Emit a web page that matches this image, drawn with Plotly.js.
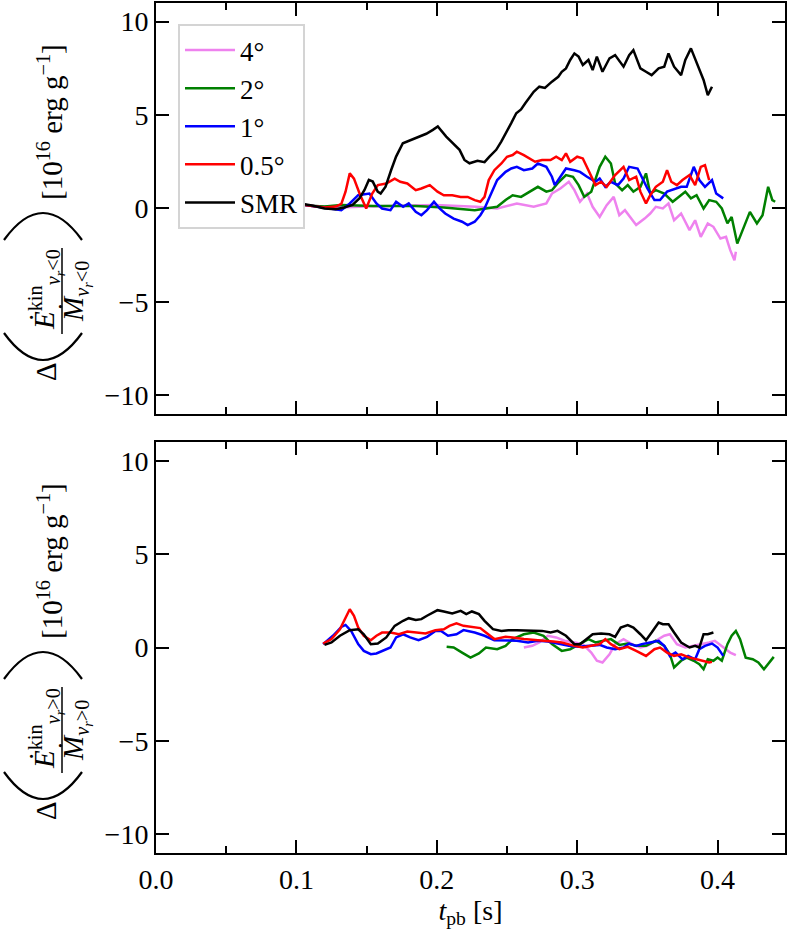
<!DOCTYPE html>
<html>
<head>
<meta charset="utf-8">
<script src="https://cdn.plot.ly/plotly-3.0.1.min.js"></script>
<style>
  body { margin: 0; }
  #chart text { font-family: 'Liberation Serif', serif !important; }
</style>
</head>
<body>
<div id="chart"></div>
<script>
// legend labels and colours
var names = ['4°', '2°', '1°', '0.5°', 'SMR'];
var colors = ['violet', 'green', 'blue', 'red', 'black'];

// ---- top panel: v_r < 0 ----
var t4Neg = [0.100,0.105,0.110,0.120,0.130,0.150,0.170,0.199,0.228,0.243,0.257,0.269,0.278,0.282,0.288,0.294,0.298,0.302,0.307,0.311,0.316,0.321,0.326,0.330,0.334,0.339,0.342,0.348,0.352,0.356,0.361,0.365,0.369,0.374,0.380,0.384,0.388,0.393,0.397,0.402,0.406,0.409,0.412,0.413];
var v4Neg = [0.05,0.2,0.15,0.1,0.05,0.1,0.12,0.18,0.09,0.0,0.27,0.09,0.27,0.8,1.07,1.43,0.98,0.36,0.8,0.09,-0.45,0.18,0.62,-0.36,-0.09,-0.63,-0.89,-0.54,-0.27,0.09,0.0,0.27,-0.63,-0.27,-1.16,-0.63,-1.52,-0.8,-0.98,-1.61,-1.52,-2.23,-2.77,-2.32];

var t2Neg = [0.100,0.105,0.110,0.120,0.132,0.155,0.185,0.205,0.227,0.234,0.243,0.249,0.254,0.260,0.268,0.272,0.278,0.282,0.286,0.292,0.297,0.301,0.305,0.310,0.316,0.320,0.324,0.327,0.332,0.336,0.340,0.345,0.349,0.352,0.356,0.362,0.368,0.372,0.377,0.381,0.385,0.390,0.394,0.399,0.403,0.407,0.410,0.414,0.419,0.423,0.428,0.432,0.436,0.439,0.441];
var v2Neg = [0.05,0.2,0.15,0.1,0.18,0.13,0.13,0.05,-0.09,0.0,0.09,0.45,0.71,0.62,0.98,1.16,0.9,0.98,1.34,1.79,1.7,1.25,0.62,0.9,2.23,2.77,2.41,1.34,0.98,1.25,0.9,1.16,1.88,0.8,0.98,0.8,0.36,0.62,0.9,0.54,0.71,0.0,0.45,0.36,0.0,-0.8,-0.45,-1.88,-0.89,-0.18,-0.8,-0.36,1.16,0.45,0.36];

var t1Neg = [0.100,0.105,0.110,0.120,0.126,0.132,0.138,0.144,0.152,0.157,0.161,0.167,0.171,0.176,0.180,0.185,0.189,0.193,0.198,0.202,0.206,0.212,0.218,0.222,0.227,0.231,0.234,0.238,0.243,0.249,0.253,0.257,0.262,0.268,0.272,0.278,0.282,0.284,0.288,0.292,0.298,0.302,0.307,0.313,0.316,0.320,0.324,0.329,0.333,0.337,0.343,0.348,0.350,0.355,0.359,0.364,0.370,0.374,0.378,0.383,0.387,0.391,0.396,0.399,0.404];
var v1Neg = [0.05,0.2,0.15,0.05,-0.04,-0.09,0.27,0.71,0.8,0.27,0.0,-0.09,0.36,0.09,0.27,-0.18,-0.36,-0.09,0.36,0.0,-0.27,-0.54,-0.71,-0.89,-0.71,-0.36,0.0,0.71,1.52,1.96,2.14,2.23,2.05,2.14,2.41,2.23,1.7,1.25,1.7,2.14,2.05,1.96,1.7,1.43,1.6,1.16,1.43,1.25,1.6,2.23,2.14,1.43,1.07,0.45,0.45,0.9,1.07,1.16,1.16,2.23,1.52,1.16,1.52,0.8,0.54];

var t05Neg = [0.100,0.105,0.110,0.120,0.128,0.132,0.135,0.138,0.141,0.145,0.1497,0.154,0.158,0.164,0.170,0.174,0.179,0.185,0.189,0.195,0.2005,0.205,0.211,0.217,0.222,0.227,0.231,0.234,0.237,0.241,0.246,0.250,0.254,0.257,0.262,0.266,0.270,0.275,0.281,0.285,0.289,0.292,0.295,0.300,0.304,0.308,0.313,0.317,0.321,0.327,0.333,0.337,0.342,0.345,0.349,0.352,0.356,0.361,0.364,0.367,0.371,0.375,0.380,0.384,0.388,0.391,0.394];
var v05Neg = [0.05,0.2,0.15,0.05,0.1,0.25,0.9,1.88,1.6,0.8,0.0,0.8,1.25,1.34,1.6,1.43,1.34,0.98,1.07,1.25,0.9,0.71,0.71,0.62,0.62,0.45,0.36,0.62,1.52,2.05,2.41,2.77,2.86,3.04,2.86,2.68,2.5,2.59,2.59,2.77,2.59,2.95,2.5,2.77,2.68,2.05,1.25,1.43,1.16,1.79,2.23,1.52,1.7,0.9,0.27,0.71,1.16,1.43,2.05,1.43,1.25,1.52,1.79,1.25,2.23,2.32,1.52];

var tSmrNeg = [0.0998,0.106,0.112,0.120,0.128,0.134,0.140,0.145,0.1485,0.1516,0.1544,0.1579,0.160,0.1635,0.1675,0.171,0.1758,0.1817,0.1889,0.1925,0.1972,0.2007,0.2067,0.2115,0.2162,0.2197,0.2233,0.229,0.234,0.2375,0.2423,0.2459,0.2494,0.253,0.2566,0.26,0.263,0.269,0.273,0.277,0.282,0.2865,0.289,0.292,0.295,0.298,0.301,0.304,0.308,0.311,0.314,0.318,0.323,0.327,0.333,0.337,0.340,0.345,0.349,0.353,0.358,0.362,0.365,0.369,0.374,0.377,0.381,0.384,0.387,0.390,0.393,0.396];
var vSmrNeg = [0.1,0.23,0.15,0.0,-0.04,0.05,0.19,0.55,0.99,1.53,1.44,0.9,0.8,1.17,2.06,2.78,3.49,3.67,3.85,4.0,4.21,4.39,3.85,3.49,3.14,2.6,2.42,2.55,2.48,2.78,3.14,3.58,4.03,4.57,5.1,5.3,5.63,6.25,6.52,6.45,6.79,7.05,7.32,7.5,7.95,8.3,8.13,7.68,7.95,7.41,8.13,7.32,8.04,8.21,7.59,8.21,8.48,7.5,7.32,7.14,7.5,7.59,8.3,7.59,7.14,7.95,8.57,8.04,7.41,6.88,6.07,6.52];

// ---- bottom panel: v_r > 0 ----
var t4Pos = [0.262,0.268,0.273,0.279,0.285,0.291,0.298,0.304,0.310,0.314,0.318,0.323,0.327,0.333,0.339,0.345,0.350,0.356,0.362,0.366,0.371,0.377,0.383,0.388,0.394,0.398,0.403,0.409,0.413];
var v4Pos = [0.0,0.09,0.27,0.63,0.54,0.36,0.27,0.18,-0.27,-0.71,-0.8,-0.36,0.18,0.45,0.18,0.0,0.09,0.36,0.63,0.71,0.18,0.0,0.09,0.18,0.27,0.36,0.09,-0.27,-0.41];

var t2Pos = [0.207,0.212,0.218,0.224,0.230,0.235,0.243,0.249,0.254,0.262,0.269,0.276,0.282,0.289,0.295,0.302,0.308,0.313,0.318,0.324,0.330,0.336,0.342,0.349,0.356,0.362,0.366,0.369,0.374,0.378,0.383,0.387,0.390,0.393,0.397,0.400,0.403,0.407,0.410,0.413,0.416,0.420,0.425,0.429,0.433,0.436,0.440];
var v2Pos = [0.04,0.0,-0.27,-0.54,-0.32,0.0,-0.09,0.09,0.45,0.71,0.8,0.63,0.18,-0.18,-0.09,0.18,0.45,0.27,0.36,0.45,0.14,0.21,0.09,0.09,0.36,0.09,-0.36,-1.07,-0.71,-0.54,-0.71,-0.89,-1.16,-0.63,-0.71,-0.54,-0.71,0.18,0.63,0.89,0.45,-0.54,-0.63,-0.8,-1.16,-0.89,-0.5];

var t1Pos = [0.119,0.126,0.132,0.135,0.139,0.144,0.148,0.153,0.157,0.161,0.167,0.171,0.176,0.181,0.187,0.193,0.199,0.203,0.208,0.214,0.219,0.227,0.234,0.241,0.249,0.257,0.265,0.272,0.279,0.286,0.294,0.301,0.308,0.316,0.321,0.327,0.333,0.337,0.342,0.346,0.352,0.358,0.362,0.366,0.370,0.375,0.379,0.384,0.387,0.391,0.396,0.400,0.404];
var v1Pos = [0.18,0.63,1.1,1.21,0.89,0.18,-0.18,-0.36,-0.32,-0.18,0.0,0.54,0.71,0.54,0.39,0.57,0.89,0.89,0.63,0.71,0.93,0.8,0.63,0.39,0.39,0.36,0.27,0.36,0.32,0.21,0.09,0.04,0.09,0.14,0.0,-0.09,0.0,0.21,0.09,0.18,0.27,0.36,0.09,-0.45,-0.27,-0.63,-0.45,-0.63,-0.09,0.09,0.21,0.0,-0.45];

var t05Pos = [0.119,0.125,0.131,0.135,0.138,0.141,0.144,0.148,0.153,0.157,0.161,0.167,0.173,0.179,0.186,0.192,0.199,0.205,0.209,0.214,0.219,0.225,0.231,0.235,0.241,0.249,0.254,0.262,0.269,0.276,0.283,0.289,0.298,0.304,0.310,0.316,0.320,0.324,0.330,0.336,0.342,0.349,0.355,0.359,0.364,0.369,0.374,0.380,0.385,0.390,0.394,0.396];
var v05Pos = [0.21,0.45,0.98,1.61,2.05,1.7,1.07,0.63,0.39,0.63,0.8,0.8,0.71,0.86,0.8,0.75,0.93,0.98,1.16,1.29,1.16,1.1,1.04,0.8,0.45,0.57,0.54,0.45,0.39,0.36,0.32,0.27,0.09,0.0,0.09,0.18,0.45,0.18,-0.09,0.04,-0.18,-0.45,-0.09,0.0,-0.27,-0.45,-0.36,-0.54,-0.63,-0.71,-0.8,-0.77];

var tSmrPos = [0.120,0.125,0.131,0.138,0.144,0.148,0.153,0.158,0.164,0.170,0.176,0.180,0.185,0.189,0.193,0.198,0.2005,0.205,0.211,0.217,0.221,0.225,0.230,0.234,0.240,0.246,0.251,0.257,0.263,0.269,0.275,0.281,0.286,0.292,0.298,0.302,0.307,0.311,0.317,0.323,0.327,0.331,0.336,0.340,0.345,0.349,0.353,0.358,0.361,0.365,0.369,0.374,0.380,0.384,0.387,0.390,0.393,0.397];
var vSmrPos = [0.14,0.27,0.63,0.93,0.98,0.71,0.18,0.21,0.54,1.16,1.43,1.57,1.48,1.52,1.7,1.88,2.0,1.93,1.82,1.96,1.79,1.93,1.79,1.43,0.98,0.89,0.93,0.93,0.93,0.89,0.89,0.8,0.89,0.63,0.18,0.18,0.45,0.71,0.75,0.71,0.57,1.07,1.2,1.07,0.71,0.39,0.8,1.34,1.25,1.25,0.8,0.27,0.0,0.09,0.0,0.71,0.71,0.8];

var topT = [t4Neg, t2Neg, t1Neg, t05Neg, tSmrNeg];
var topV = [v4Neg, v2Neg, v1Neg, v05Neg, vSmrNeg];
var botT = [t4Pos, t2Pos, t1Pos, t05Pos, tSmrPos];
var botV = [v4Pos, v2Pos, v1Pos, v05Pos, vSmrPos];

var serif = 'Liberation Serif';

var data = [];
for (var i = 0; i < names.length; i++) {
    data.push({
        x: topT[i], y: topV[i], xaxis: 'x', yaxis: 'y',
        type: 'scatter', mode: 'lines', name: names[i],
        line: {color: colors[i], width: 2.5}
    });
}
for (var i = 0; i < names.length; i++) {
    data.push({
        x: botT[i], y: botV[i], xaxis: 'x2', yaxis: 'y2',
        type: 'scatter', mode: 'lines', name: names[i], showlegend: false,
        line: {color: colors[i], width: 2.5}
    });
}

// pixel -> paper helpers for the stacked y titles
var L = 156, W = 629, B = 853, H = 850;
function px(x) { return (x - L) / W; }
function py(y) { return (B - y) / H; }

function xAxis(showLabels, anchor) {
    return {
        anchor: anchor, range: [0, 0.448], tick0: 0, dtick: 0.1,
        ticks: 'inside', ticklen: 13, tickwidth: 1.5, tickcolor: 'black',
        minor: {dtick: 0.05, ticks: 'inside', ticklen: 7, tickwidth: 1.5, tickcolor: 'black'},
        showline: true, linewidth: 2, linecolor: 'black', mirror: 'ticks',
        showgrid: false, zeroline: false,
        showticklabels: showLabels, tickformat: '.1f',
        tickfont: {family: serif, size: 28, color: 'black'}
    };
}
function yAxis(domain, anchor) {
    return {
        domain: domain, anchor: anchor, range: [-11, 11], tickvals: [-10, -5, 0, 5, 10],
        ticks: 'inside', ticklen: 13, tickwidth: 1.5, tickcolor: 'black',
        showline: true, linewidth: 2, linecolor: 'black', mirror: 'ticks',
        showgrid: false, zeroline: false, ticksuffix: ' ',
        tickfont: {family: serif, size: 28, color: 'black'}
    };
}

var xTop = xAxis(false, 'y');
var xBot = xAxis(true, 'y2');
xBot.title = {text: '<i>t</i><sub>pb</sub> [s]', font: {family: serif, size: 28, color: 'black'}, standoff: 6};

var annotations = [];
var shapes = [];
function note(x, y, text) {
    annotations.push({xref: 'paper', yref: 'paper', x: px(x), y: py(y),
        xanchor: 'center', yanchor: 'middle', text: text, showarrow: false,
        textangle: -90, font: {family: serif, size: 29, color: 'black'}});
}
function yTitle(off, sign) {
    var sub = '<i>v</i><sub><i>r</i></sub>' + sign + '0';
    note(46, 372 + off, 'Δ');
    note(46, 290 + off, '<i>Ė</i><sup>kin</sup><sub>' + sub + '</sub>');
    note(76, 292 + off, '<i>Ṁ</i><sub>' + sub + '</sub>');
    note(50, 122 + off, '[10<sup>16</sup> erg g<sup>−1</sup>]');
    // fraction bar
    shapes.push({type: 'line', xref: 'paper', yref: 'paper',
        x0: px(62), x1: px(62), y0: py(248 + off), y1: py(334 + off),
        line: {color: 'black', width: 1.5}});
    // big parentheses, drawn as pixel-sized arcs
    [[333, 27], [240, -27]].forEach(function (p) {
        shapes.push({type: 'path', xref: 'paper', yref: 'paper',
            xsizemode: 'pixel', ysizemode: 'pixel',
            xanchor: px(43), yanchor: py(p[0] + off),
            path: 'M -39,0 Q 0,' + (-2 * p[1]) + ' 39,0',
            line: {color: 'black', width: 2.2}});
    });
}
yTitle(0, '&lt;');
yTitle(439, '&gt;');

var layout = {
    width: 789, height: 931,
    margin: {l: 156, r: 4, t: 3, b: 78},
    paper_bgcolor: 'white', plot_bgcolor: 'white',
    font: {family: serif, size: 28, color: 'black'},
    showlegend: true,
    xaxis: xTop, yaxis: yAxis([0.5165, 1], 'x'),
    xaxis2: xBot, yaxis2: yAxis([0, 0.4835], 'x2'),
    legend: {
        x: px(178), y: py(24), xanchor: 'left', yanchor: 'top',
        bgcolor: 'white', bordercolor: '#d4d4d4', borderwidth: 2,
        font: {family: serif, size: 27, color: 'black'},
        itemwidth: 50
    },
    annotations: annotations,
    shapes: shapes
};

Plotly.newPlot('chart', data, layout, {displayModeBar: false});
</script>
</body>
</html>
